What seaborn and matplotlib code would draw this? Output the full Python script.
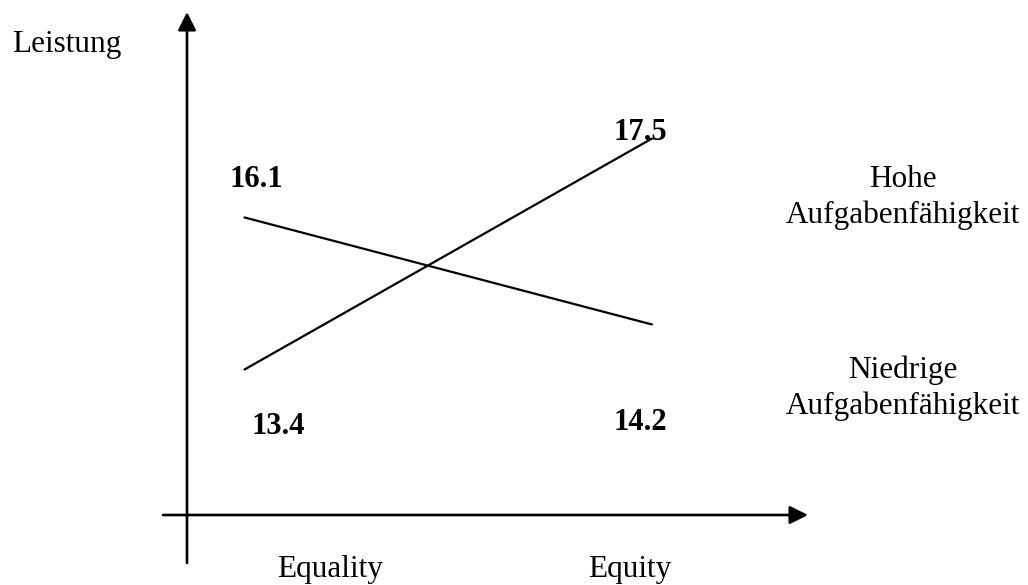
import pandas as pd
import matplotlib.pyplot as plt
import seaborn as sns

# Daten
bedingungen = ["Equality", "Equity"]
hohe_werte = [13.4, 17.5]
niedrige_werte = [16.1, 14.2]
gruppen = ["Hohe\nAufgabenfähigkeit", "Niedrige\nAufgabenfähigkeit"]
y_titel = "Leistung"

df = pd.DataFrame({
    "Bedingung": bedingungen * 2,
    "Leistung": hohe_werte + niedrige_werte,
    "Gruppe": [gruppen[0]] * 2 + [gruppen[1]] * 2,
})

sns.set_style("white")
plt.rcParams['font.family'] = ['Liberation Serif', 'DejaVu Serif']
plt.rcParams['text.color'] = 'black'

W, H = 1028, 585
fig = plt.figure(figsize=(W / 100, H / 100), dpi=100)
ax = fig.add_axes([0, 0, 1, 1])


def px(x, y):
    # pixel position (from top left) -> figure fraction
    return x / W, 1 - y / H


sns.lineplot(
    data=df, x="Bedingung", y="Leistung", hue="Gruppe",
    palette=["black", "black"], linewidth=1.6, legend=False, ax=ax
)

# Equality bei x=0 -> 244 px, Equity bei x=1 -> 652 px
ax.set_xlim(-0.600, 1.923)
ax.set_ylim(9.575, 19.96)
ax.axis("off")

# Achsenpfeile
pfeil = dict(arrowstyle="-|>,head_length=1.0,head_width=0.5", color="black",
             lw=1.9, shrinkA=0, shrinkB=0, mutation_scale=11)
ax.annotate("", xy=px(187, 12), xytext=px(187, 563),
            xycoords="figure fraction", arrowprops=pfeil)
ax.annotate("", xy=px(808, 515), xytext=px(163, 515),
            xycoords="figure fraction", arrowprops=pfeil)

fs = 22.5
fig.text(*px(12, 52), y_titel, fontsize=fs, va="baseline", color="black")

# Werte
fett = dict(fontsize=22, weight="bold", va="baseline", color="black")
fig.text(*px(229, 187), f"{niedrige_werte[0]}", **fett)
fig.text(*px(613, 140), f"{hohe_werte[1]}", **fett)
fig.text(*px(252, 434), f"{hohe_werte[0]}", **fett)
fig.text(*px(613, 430), f"{niedrige_werte[1]}", **fett)

# Gruppenbeschriftungen
for gruppe, y0 in zip(gruppen, [187, 378]):
    for i, zeile in enumerate(gruppe.split("\n")):
        fig.text(*px(903, y0 + 36 * i), zeile, fontsize=fs, ha="center",
                 va="baseline", color="black")

# Bedingungen
for bed, xc in zip(bedingungen, [330, 630]):
    fig.text(*px(xc, 577), bed, fontsize=fs, ha="center", va="baseline",
             color="black")

plt.savefig("out.png", dpi=100)
